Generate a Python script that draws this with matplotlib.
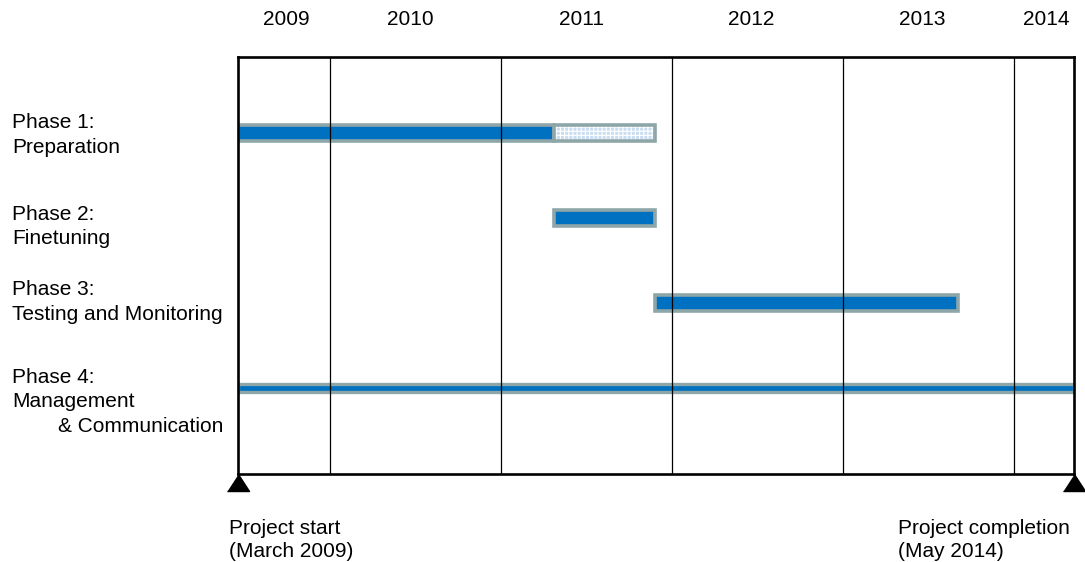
import numpy as np
import matplotlib
matplotlib.use('Agg')
import matplotlib.pyplot as plt
import matplotlib.transforms as mtransforms

plt.rcParams['font.family'] = ['Liberation Sans', 'DejaVu Sans']

# time axis in fractional years
t_start = 2009.46
t_end = 2014.35
year_lines = [2010, 2011, 2012, 2013, 2014]
year_labels = ['2009', '2010', '2011', '2012', '2013', '2014']
year_label_pos = [2009.74, 2010.47, 2011.47, 2012.46, 2013.46, 2014.19]

# phases
phase_labels = ['Phase 1:\nPreparation',
                'Phase 2:\nFinetuning',
                'Phase 3:\nTesting and Monitoring',
                'Phase 4:\nManagement\n        & Communication']
phase_start = [2009.46, 2011.31, 2011.90, 2009.46]
phase_end = [2011.31, 2011.90, 2013.67, 2014.35]
# planned extension of phase 1 (hatched part)
ext_start = [2011.31]
ext_end = [2011.90]

milestone_text = ['Project start\n(March 2009)', 'Project completion\n(May 2014)']
milestone_x = [2009.41, 2013.32]

blue = '#0070C0'
edge = '#8FA6A8'
fs = 15

fig = plt.figure(figsize=(10.85, 5.62), dpi=100)
ax = fig.add_axes([238/1085, 1-474/562, (1074-238)/1085, (474-57)/562])

ax.set_xlim(t_start, t_end)
ax.set_ylim(4.01, -0.894)

ypos = np.arange(len(phase_labels))
heights = [0.18, 0.18, 0.18, 0.09]
lws = [2.6, 2.6, 2.6, 2.4]

for y in year_lines:
    ax.axvline(y, color='black', lw=0.9, zorder=5)

for i in range(len(phase_labels)):
    ax.barh(ypos[i], phase_end[i]-phase_start[i], left=phase_start[i],
            height=heights[i], color=blue, edgecolor=edge, linewidth=lws[i],
            zorder=3)

plt.rcParams['hatch.linewidth'] = 0.8
for s, e in zip(ext_start, ext_end):
    ax.barh(0, e-s, left=s, height=0.18, color='#C9DDF3', edgecolor='white',
            hatch='++++', linewidth=0, zorder=3)
    ax.barh(0, e-s, left=s, height=0.18, fill=False, edgecolor=edge,
            linewidth=2.6, zorder=4)

for sp in ax.spines.values():
    sp.set_linewidth(1.9)
    sp.set_zorder(6)
ax.set_xticks([])
ax.set_yticks([])

for lab, x in zip(year_labels, year_label_pos):
    ax.text(x, 1.089, lab, transform=ax.get_xaxis_transform(), ha='center',
            va='center', fontsize=fs)

trans = mtransforms.blended_transform_factory(fig.transFigure, ax.transData)
label_y = [0.02, 1.1, 1.99, 3.16]
for lab, y in zip(phase_labels, label_y):
    ax.text(12/1085, y, lab, transform=trans, ha='left', va='center',
            fontsize=fs, linespacing=1.38)

# milestone triangles
tri = [(-0.5, -0.77), (0.5, -0.77), (0.0, 0.0)]
ax.plot([t_start, t_end], [0, 0], transform=ax.get_xaxis_transform(),
        linestyle='none', marker=tri, markersize=24.5, color='black',
        clip_on=False, zorder=7)

for txt, x in zip(milestone_text, milestone_x):
    ax.text(x, -0.158, txt, transform=ax.get_xaxis_transform(), ha='left',
            va='center', fontsize=fs, linespacing=1.3)

fig.savefig('out.png', dpi=100)
